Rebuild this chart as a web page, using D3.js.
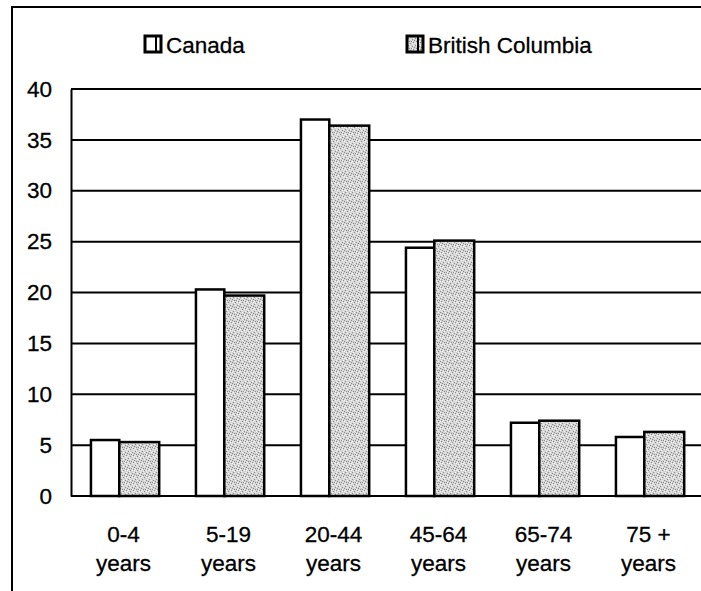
<!DOCTYPE html>
<html>
<head>
<meta charset="utf-8">
<script src="https://cdn.jsdelivr.net/npm/d3@7"></script>
<style>
  html, body { margin: 0; padding: 0; background: #fff; }
  svg { display: block; }
  text { font-family: "Liberation Sans", Arial, sans-serif; fill: #000; }
</style>
</head>
<body>
<script>
const categories = ["0-4|years", "5-19|years", "20-44|years", "45-64|years", "65-74|years", "75 +|years"];
const seriesNames = ["Canada", "British Columbia"];
const canadaValues = [5.5, 20.3, 37.0, 24.4, 7.2, 5.8];
const bcValues = [5.3, 19.7, 36.4, 25.1, 7.4, 6.3];
const yTicks = [0, 5, 10, 15, 20, 25, 30, 35, 40];

const W = 701, H = 591;
const svg = d3.select("body").append("svg").attr("width", W).attr("height", H);

// stippled gray pattern for British Columbia
const defs = svg.append("defs");
const pat = defs.append("pattern").attr("id", "dither")
  .attr("patternUnits", "userSpaceOnUse").attr("width", 7).attr("height", 7);
pat.append("rect").attr("width", 7).attr("height", 7).attr("fill", "#d4d4d4");
[[0,0],[4,1],[2,3],[6,4],[1,5],[5,6],[3,6]].forEach(([px,py]) =>
  pat.append("rect").attr("x", px).attr("y", py).attr("width", 1).attr("height", 1).attr("fill", "#8c8c8c"));
[[2,0],[6,1],[0,3],[4,4],[3,2],[6,6],[1,1]].forEach(([px,py]) =>
  pat.append("rect").attr("x", px).attr("y", py).attr("width", 1).attr("height", 1).attr("fill", "#f4f4f4"));

const fills = ["#ffffff", "url(#dither)"];

// outer frame (left and top edges visible)
svg.append("line").attr("x1", 12).attr("x2", 12).attr("y1", 6).attr("y2", H).attr("stroke", "#000").attr("stroke-width", 2);
svg.append("line").attr("x1", 11).attr("x2", W).attr("y1", 7).attr("y2", 7).attr("stroke", "#000").attr("stroke-width", 2);

const plotL = 71, plotR = 701, plotT = 89, plotB = 496;
const x = d3.scaleBand().domain(categories).range([plotL, plotR]).padding(0);
const y = d3.scaleLinear().domain([0, 40]).range([plotB, plotT]);

// gridlines
svg.append("g").selectAll("line").data(yTicks.filter(t => t > 0)).join("line")
  .attr("x1", plotL).attr("x2", plotR)
  .attr("y1", d => y(d)).attr("y2", d => y(d))
  .attr("stroke", "#000").attr("stroke-width", 2);

// y axis
const yAxis = svg.append("g").attr("transform", `translate(${plotL},0)`)
  .call(d3.axisLeft(y).tickValues(yTicks).tickSize(0).tickPadding(19));
yAxis.select(".domain").attr("stroke", "#000").attr("stroke-width", 2);
yAxis.selectAll("text").attr("font-size", 22.5).attr("font-family", "Liberation Sans, Arial, sans-serif")
  .attr("fill", "#000").attr("stroke", "#000").attr("stroke-width", 0.3);

// bars
const bw = x.bandwidth();
const offsets = [0.19, 0.46];
const widths = [0.27, 0.38];
const series = [canadaValues, bcValues];
series.forEach((vals, si) => {
  svg.append("g").selectAll("rect").data(vals).join("rect")
    .attr("x", (d, i) => x(categories[i]) + offsets[si] * bw)
    .attr("width", widths[si] * bw)
    .attr("y", d => y(d))
    .attr("height", d => y(0) - y(d))
    .attr("fill", fills[si])
    .attr("stroke", "#000").attr("stroke-width", 2.5);
});

// baseline
svg.append("line").attr("x1", plotL).attr("x2", plotR).attr("y1", y(0)).attr("y2", y(0))
  .attr("stroke", "#000").attr("stroke-width", 2);

// x labels
const xl = svg.append("g").selectAll("text").data(categories).join("text")
  .attr("x", d => x(d) + bw / 2)
  .attr("text-anchor", "middle")
  .attr("font-size", 22.5)
  .attr("stroke", "#000").attr("stroke-width", 0.3);
xl.each(function(d) {
  const parts = d.split("|");
  d3.select(this).append("tspan").attr("x", x(d) + bw / 2).attr("y", 542).text(parts[0]);
  d3.select(this).append("tspan").attr("x", x(d) + bw / 2).attr("y", 571).text(parts[1]);
});

// legend
const legendPos = [{bx: 145, tx: 166}, {bx: 407, tx: 428}];
seriesNames.forEach((name, i) => {
  const g = svg.append("g");
  g.append("rect").attr("x", legendPos[i].bx).attr("y", 36).attr("width", 16).attr("height", 16)
    .attr("fill", fills[i]).attr("stroke", "#000").attr("stroke-width", 3);
  g.append("line").attr("x1", legendPos[i].bx + 11).attr("x2", legendPos[i].bx + 11)
    .attr("y1", 36).attr("y2", 52).attr("stroke", "#000").attr("stroke-width", 2);
  g.append("text").attr("x", legendPos[i].tx).attr("y", 53)
    .attr("font-size", 22.5).attr("stroke", "#000").attr("stroke-width", 0.3).text(name);
});
</script>
</body>
</html>
